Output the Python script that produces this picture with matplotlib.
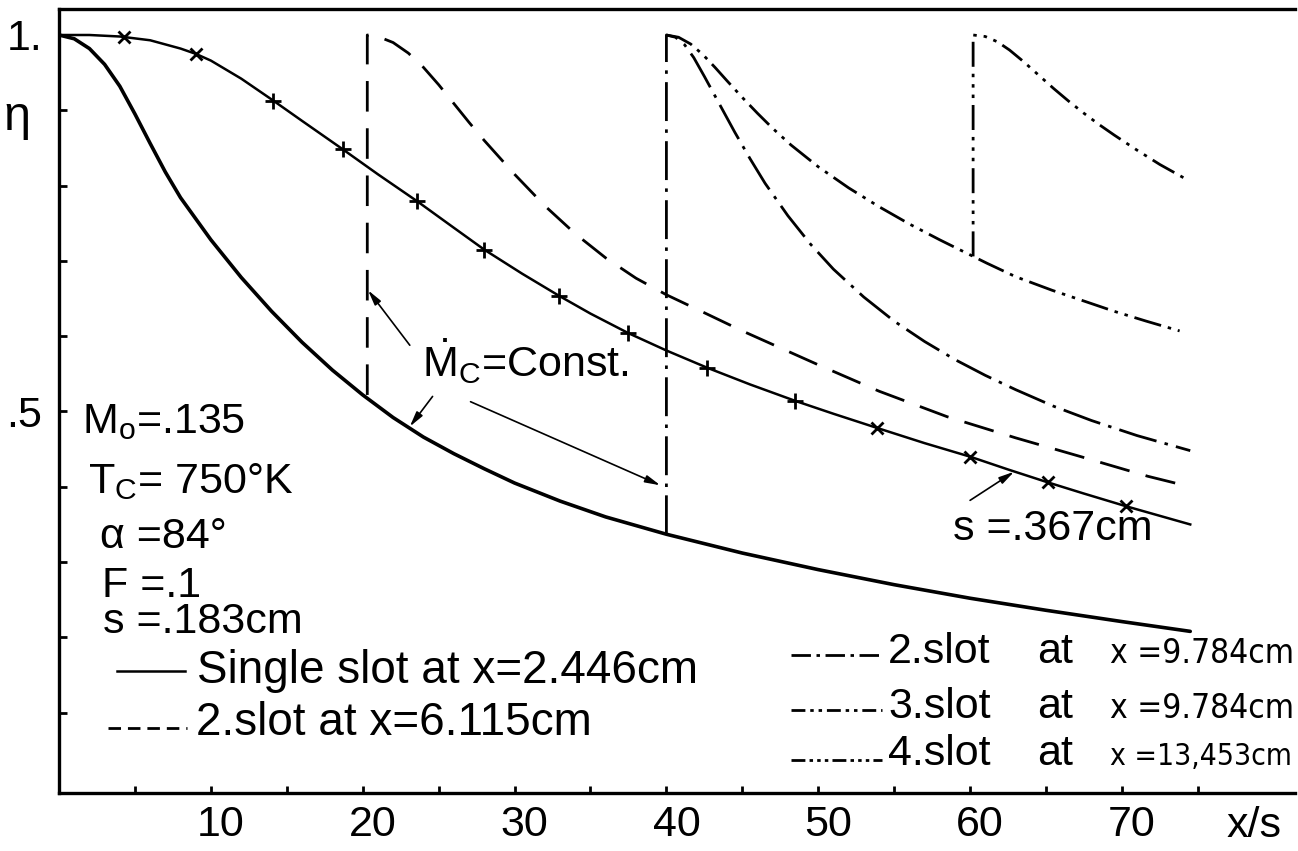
import matplotlib
matplotlib.use("Agg")
import matplotlib.pyplot as plt
import matplotlib.transforms as mtransforms
from matplotlib import font_manager

plt.rcParams["font.family"] = ["Liberation Sans", "DejaVu Sans"]
plt.rcParams["mathtext.default"] = "regular"
plt.rcParams["lines.scale_dashes"] = False

# single slot at x=2.446cm (s=.183cm)
single_x = [0, 1, 2, 3, 4, 5, 6, 7, 8, 10, 12, 14, 16, 18, 20, 22, 24, 26, 28, 30,
            33, 36, 40, 45, 50, 55, 60, 65, 70, 74.5]
single_y = [1.0, 0.995, 0.982, 0.961, 0.932, 0.895, 0.856, 0.818, 0.784, 0.728, 0.678, 0.633,
            0.592, 0.555, 0.522, 0.492, 0.466, 0.444, 0.424, 0.405, 0.381, 0.360, 0.337,
            0.312, 0.290, 0.270, 0.252, 0.236, 0.221, 0.208]

# 2. slot at x=6.115cm
slot2_x = [20.3, 20.3, 21, 22, 23, 24, 25, 26, 27, 28, 30, 32, 34, 36, 38, 40, 42.2,
           45, 50, 54, 58.5, 63, 67.3, 71.7, 74.5]
slot2_y = [0.522, 1.0, 0.998, 0.990, 0.976, 0.957, 0.934, 0.909, 0.884, 0.860, 0.815, 0.773,
           0.736, 0.704, 0.677, 0.655, 0.634, 0.607, 0.562, 0.527, 0.493, 0.465, 0.440,
           0.414, 0.400]

# 2. slot at x=9.784cm (leaves the single slot curve)
slot2b_x = [40.0, 40.0, 40.6, 41.2, 41.8, 42.5, 43.5, 44.5, 45.5, 46.5, 48, 49.5, 51,
            53, 55, 57, 59, 61, 63, 65.5, 68, 71, 74.5]
slot2b_y = [0.337, 1.0, 0.997, 0.987, 0.970, 0.945, 0.908, 0.871, 0.836, 0.803, 0.760, 0.722,
            0.689, 0.652, 0.620, 0.593, 0.569, 0.548, 0.529, 0.507, 0.488, 0.468, 0.448]

# 3. slot at x=9.784cm
slot3_x = [40.0, 40.8, 41.6, 42.4, 43.2, 44.0, 45, 46, 47, 48.2, 50, 52, 54, 56, 58,
           60.2, 61.1, 63, 65.4, 67.6, 69.5, 71.6, 73.8]
slot3_y = [1.0, 0.997, 0.988, 0.974, 0.957, 0.939, 0.917, 0.896, 0.876, 0.854, 0.825, 0.797,
           0.772, 0.749, 0.728, 0.706, 0.697, 0.679, 0.661, 0.646, 0.633, 0.620, 0.607]

# 4. slot at x=13.453cm
slot4_x = [60.2, 60.2, 61, 61.8, 62.6, 63.5, 64.5, 65.5, 66.5, 67.5, 68.5, 69.5, 71, 72.5, 74.1]
slot4_y = [0.706, 1.0, 0.998, 0.991, 0.980, 0.965, 0.947, 0.929, 0.912, 0.896, 0.881, 0.867,
           0.847, 0.828, 0.810]

# s=.367cm
s367_x = [0, 2, 4, 6, 8, 9, 10, 12, 14.1, 16, 18.7, 21, 23.6, 26, 28, 30.5, 32.9, 35,
          37.5, 40, 42.7, 45.5, 48.5, 51, 53.9, 57, 60, 62.5, 65.1, 67.5, 70.3, 74.5]
s367_y = [1.0, 1.0, 0.998, 0.993, 0.982, 0.975, 0.966, 0.942, 0.913, 0.886, 0.848, 0.815,
          0.779, 0.744, 0.715, 0.683, 0.654, 0.630, 0.604, 0.581, 0.558, 0.536, 0.514,
          0.497, 0.478, 0.458, 0.440, 0.423, 0.406, 0.391, 0.374, 0.350]
cross_x = [4.3, 9.0, 53.9, 60.0, 65.1, 70.3]
cross_y = [0.997, 0.975, 0.478, 0.440, 0.406, 0.374]
plus_x = [14.1, 18.7, 23.6, 28.0, 32.9, 37.5, 42.7, 48.5]
plus_y = [0.913, 0.848, 0.779, 0.715, 0.654, 0.604, 0.558, 0.514]

x_ticks = [10, 20, 30, 40, 50, 60, 70]
x_minor = [5, 15, 25, 35, 45, 55, 65, 75]
y_ticks = [0.5, 1.0]
y_tick_labels = [".5", "1."]
y_minor = [0.1, 0.2, 0.3, 0.4, 0.6, 0.7, 0.8, 0.9]

FS = 31
DASHED = (0, (22, 12))
DASHDOT = (0, (28, 6, 2.5, 6))
DASHDOTDOT = (0, (20, 5, 2.5, 5, 2.5, 5))
DASHDOT3 = (0, (18, 5, 2.5, 5, 2.5, 5, 2.5, 5))

# a condensed face for the crowded right-hand key, if one is installed
condensed = [f.name for f in font_manager.fontManager.ttflist
             if f.stretch in ("condensed", "semi-condensed", 75, 87.5) and f.style == "normal"]
if condensed:
    key_font = {"family": [condensed[0], "DejaVu Sans"], "fontstretch": "condensed"}
else:
    key_font = {"family": ["Liberation Sans", "DejaVu Sans"]}

fig = plt.figure(figsize=(12.98, 8.51), dpi=100)
ax = fig.add_axes([0.0455, 0.0682, 0.9522, 0.9212])
ax.set_xlim(0, 81.4)
ax.set_ylim(-0.0066, 1.0345)

ax.plot(single_x, single_y, color="k", lw=2.6, solid_capstyle="round", solid_joinstyle="round")
ax.plot(slot2_x, slot2_y, color="k", lw=2.0, ls=DASHED)
ax.plot(slot2b_x, slot2b_y, color="k", lw=2.0, ls=DASHDOT)
ax.plot(slot3_x, slot3_y, color="k", lw=2.0, ls=DASHDOTDOT)
ax.plot(slot4_x, slot4_y, color="k", lw=2.0, ls=DASHDOT3)
ax.plot(s367_x, s367_y, color="k", lw=1.8, solid_joinstyle="round")
ax.plot(cross_x, cross_y, "kx", ms=8, mew=2)
ax.plot(plus_x, plus_y, "k+", ms=12, mew=2)

# axes frame
for side in ["left", "bottom", "top"]:
    ax.spines[side].set_linewidth(2.4)
ax.spines["right"].set_visible(False)

ax.set_xticks(x_ticks)
ax.set_xticks(x_minor, minor=True)
ax.set_yticks(y_ticks)
ax.set_yticklabels(y_tick_labels)
ax.set_yticks(y_minor, minor=True)
ax.tick_params(axis="x", which="both", direction="in", length=5, width=2, pad=9, labelsize=FS)
ax.tick_params(axis="y", which="both", direction="in", length=6, width=2, pad=12, labelsize=FS)
shift = mtransforms.ScaledTranslation(0.1, 0, fig.dpi_scale_trans)
for lab in ax.get_xticklabels():
    lab.set_transform(lab.get_transform() + shift)

fig.text(0.945, 0.016, "x/s", fontsize=FS, va="baseline")
ax.text(-2.77, 0.891, "η", fontsize=FS + 4, ha="center", va="center", clip_on=False)

# parameters
ax.text(1.5, 0.471, "M$_o$=.135", fontsize=FS, va="baseline")
ax.text(1.9, 0.392, "T$_C$= 750°K", fontsize=FS, va="baseline")
ax.text(2.7, 0.319, "α =84°", fontsize=FS, va="baseline")
ax.text(2.8, 0.254, "F =.1", fontsize=FS, va="baseline")
ax.text(2.9, 0.206, "s =.183cm", fontsize=FS, va="baseline")

# key, left column
ax.plot([3.8, 8.3], [0.155, 0.155], color="k", lw=1.8)
ax.text(9.1, 0.139, "Single slot at x=2.446cm", fontsize=FS + 2, va="baseline")
ax.plot([3.2, 8.4], [0.080, 0.080], color="k", lw=2.0, ls=(0, (9, 5)))
ax.text(9.0, 0.070, "2.slot at x=6.115cm", fontsize=FS + 2, va="baseline")

# key, right column
right_rows = [
    (0.177, 0.166, (0, (14, 4, 2.5, 4)), "2.slot", "x =9.784cm"),
    (0.104, 0.093, (0, (10, 3.5, 2.5, 3.5, 2.5, 3.5)), "3.slot", "x =9.784cm"),
    (0.037, 0.031, (0, (10, 3, 2.5, 3, 2.5, 3, 2.5, 3)), "4.slot", "x =13,453cm"),
]
where_texts = []
for ly, ty, style, name, where in right_rows:
    ax.plot([48.2, 54.2], [ly, ly], color="k", lw=2.0, ls=style)
    ax.text(54.6, ty, name, fontsize=FS, va="baseline")
    ax.text(64.4, ty, "at", fontsize=FS, va="baseline")
    where_texts.append(ax.text(69.2, ty, where, fontsize=FS - 2, va="baseline", **key_font))

# shrink the slot positions until they sit inside the figure
renderer = fig.canvas.get_renderer()
fig_w = fig.bbox.width
for t in where_texts:
    while t.get_window_extent(renderer).x1 > fig_w - 4 and t.get_fontsize() > 14:
        t.set_fontsize(t.get_fontsize() - 0.5)

# Mc = const annotation
ax.text(23.9, 0.546, r"$\dot{M}_C$=Const.", fontsize=FS, va="baseline")
arrow = dict(arrowstyle="-|>,head_length=0.9,head_width=0.22", color="k", lw=1.2,
             shrinkA=0, shrinkB=0)
ax.annotate("", xy=(20.35, 0.661), xytext=(23.1, 0.588), arrowprops=arrow)
ax.annotate("", xy=(23.1, 0.480), xytext=(24.6, 0.520), arrowprops=arrow)
ax.annotate("", xy=(39.6, 0.402), xytext=(27.1, 0.513), arrowprops=arrow)

# s = .367cm annotation
ax.text(58.9, 0.329, "s =.367cm", fontsize=FS, va="baseline")
ax.annotate("", xy=(62.9, 0.420), xytext=(60.0, 0.382), arrowprops=arrow)

fig.savefig("out.png", dpi=100)
